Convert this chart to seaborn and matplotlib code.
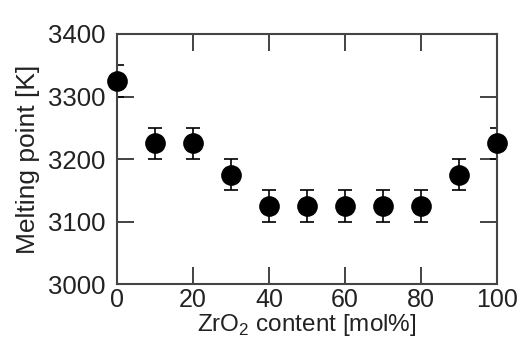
import matplotlib
matplotlib.use("Agg")
import matplotlib.pyplot as plt
import seaborn as sns
import pandas as pd

zro2 = [0, 10, 20, 30, 40, 50, 60, 70, 80, 90, 100]
melting = [3325, 3225, 3225, 3175, 3125, 3125, 3125, 3125, 3125, 3175, 3225]
erro = [25, 25, 25, 25, 25, 25, 25, 25, 25, 25, 25]

df = pd.DataFrame({'zro2': zro2, 'melting': melting, 'erro': erro})

sns.set_style("ticks")
plt.rcParams['font.family'] = ['Liberation Sans', 'DejaVu Sans']
plt.rcParams['mathtext.fontset'] = 'custom'
plt.rcParams['mathtext.rm'] = 'Liberation Sans'

fig = plt.figure(figsize=(5.26, 3.4), dpi=100)
ax = fig.add_axes([0.2224, 0.1647, 0.7225, 0.7353])

ax.errorbar(df['zro2'], df['melting'], yerr=df['erro'], fmt='none',
            ecolor='black', elinewidth=1.2, capsize=5, capthick=1.2, zorder=2)
sns.scatterplot(data=df, x='zro2', y='melting', ax=ax, color='black',
                s=190, edgecolor='black', zorder=3, clip_on=False)

ax.set_xlim(0, 100)
ax.set_ylim(3000, 3400)
ax.set_xticks([0, 20, 40, 60, 80, 100])
ax.set_yticks([3000, 3100, 3200, 3300, 3400])
ax.tick_params(direction='in', length=12, width=1.2, top=True, right=True,
               labelsize=18.5, colors='#222222')
ax.tick_params(axis='y', pad=8)
ax.tick_params(axis='x', pad=3, labelsize=18)
for s in ax.spines.values():
    s.set_linewidth(1.5)
    s.set_color('#444444')

ax.set_xlabel('ZrO$_\\mathregular{2}$ content [mol%]', fontsize=17.5, color='#222222', labelpad=0)
ax.set_ylabel('Melting point [K]', fontsize=19, color='#222222', labelpad=6)

fig.savefig('out.png', dpi=100)
